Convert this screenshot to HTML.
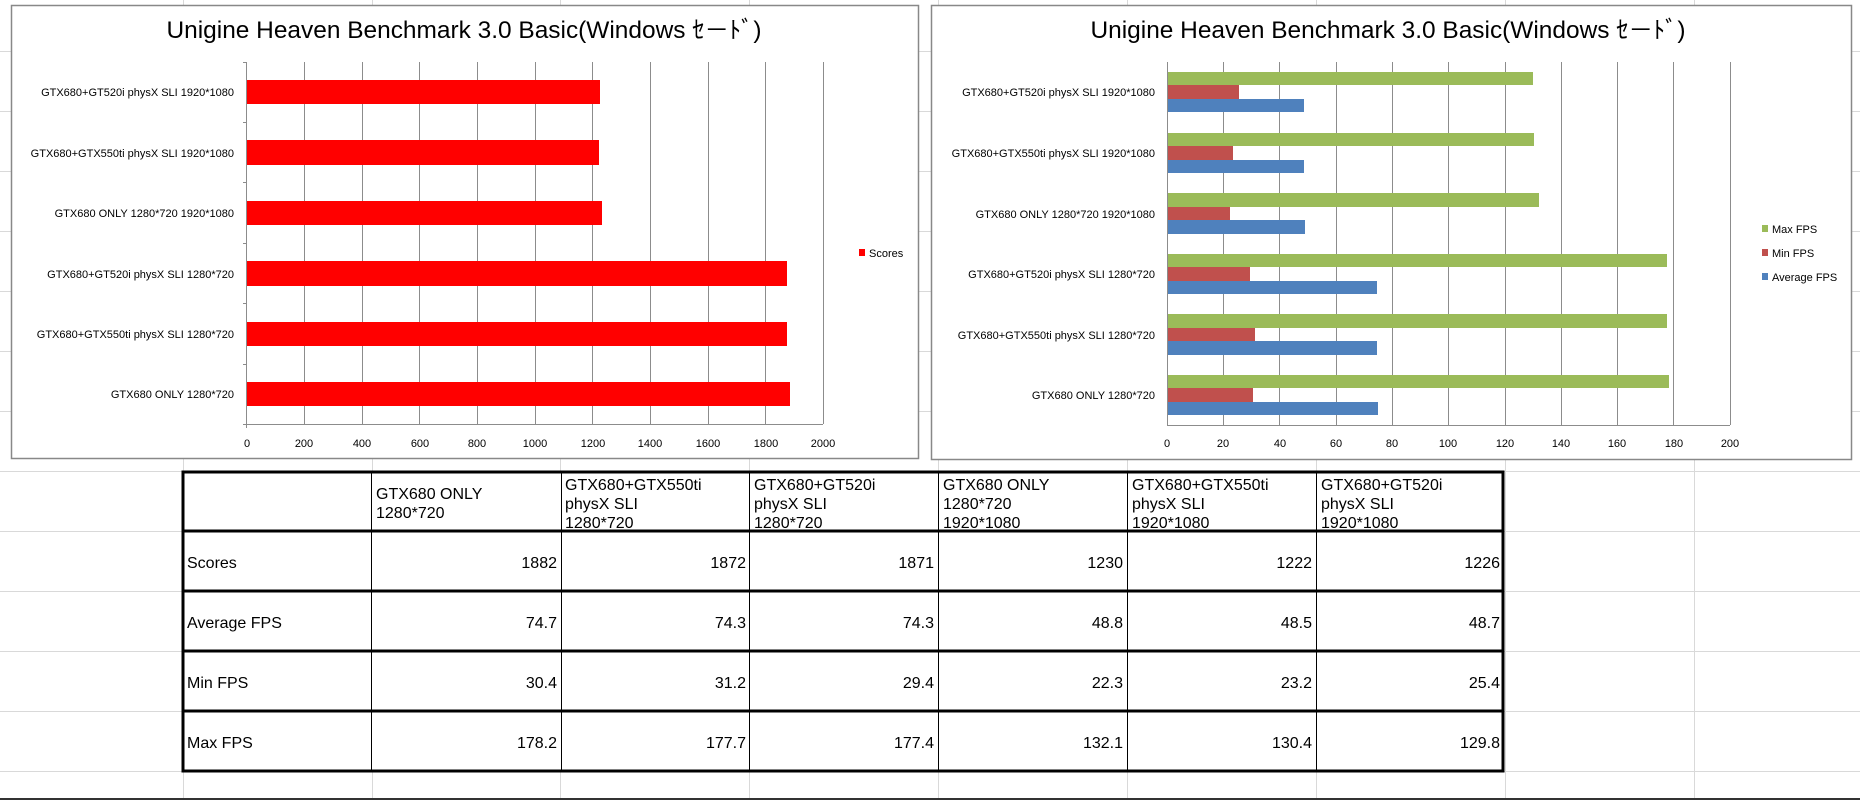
<!DOCTYPE html>
<html><head><meta charset="utf-8"><style>
html,body{margin:0;padding:0;background:#fff;width:1860px;height:800px;overflow:hidden}
svg{display:block}
.n{font-family:"Liberation Sans Narrow","Liberation Sans",sans-serif}
</style></head><body>
<svg width="1860" height="800" xmlns="http://www.w3.org/2000/svg">
<g stroke="#d9d9d9" stroke-width="1">
<line x1="183.5" y1="0" x2="183.5" y2="800"/><line x1="372.5" y1="0" x2="372.5" y2="800"/>
<line x1="560.5" y1="0" x2="560.5" y2="800"/><line x1="749.5" y1="0" x2="749.5" y2="800"/>
<line x1="938.5" y1="0" x2="938.5" y2="800"/><line x1="1127.5" y1="0" x2="1127.5" y2="800"/>
<line x1="1316.5" y1="0" x2="1316.5" y2="800"/><line x1="1505.5" y1="0" x2="1505.5" y2="800"/>
<line x1="1694.5" y1="0" x2="1694.5" y2="800"/>
<line x1="0" y1="51.5" x2="1860" y2="51.5"/><line x1="0" y1="111.5" x2="1860" y2="111.5"/>
<line x1="0" y1="171.5" x2="1860" y2="171.5"/><line x1="0" y1="231.5" x2="1860" y2="231.5"/>
<line x1="0" y1="291.5" x2="1860" y2="291.5"/><line x1="0" y1="351.5" x2="1860" y2="351.5"/>
<line x1="0" y1="411.5" x2="1860" y2="411.5"/><line x1="0" y1="471.5" x2="1860" y2="471.5"/>
<line x1="0" y1="531.5" x2="1860" y2="531.5"/><line x1="0" y1="591.5" x2="1860" y2="591.5"/>
<line x1="0" y1="651.5" x2="1860" y2="651.5"/><line x1="0" y1="711.5" x2="1860" y2="711.5"/>
<line x1="0" y1="771.5" x2="1860" y2="771.5"/>
</g>
<line x1="0" y1="799" x2="1860" y2="799" stroke="#333" stroke-width="2"/>

<!-- Left chart -->
<rect x="11.5" y="5.5" width="907" height="453" fill="#fff" stroke="#888" stroke-width="1.5"/>
<text x="464" y="38" font-family="Liberation Sans, Noto Sans CJK JP, sans-serif" font-size="24" text-anchor="middle" textLength="595" lengthAdjust="spacingAndGlyphs">Unigine Heaven Benchmark 3.0 Basic(Windows ｾ－ﾄﾞ)</text>
<g stroke="#8c8c8c" stroke-width="1">
<line x1="304.5" y1="62" x2="304.5" y2="424"/><line x1="362.5" y1="62" x2="362.5" y2="424"/>
<line x1="419.5" y1="62" x2="419.5" y2="424"/><line x1="477.5" y1="62" x2="477.5" y2="424"/>
<line x1="535.5" y1="62" x2="535.5" y2="424"/><line x1="592.5" y1="62" x2="592.5" y2="424"/>
<line x1="650.5" y1="62" x2="650.5" y2="424"/><line x1="708.5" y1="62" x2="708.5" y2="424"/>
<line x1="765.5" y1="62" x2="765.5" y2="424"/><line x1="823.5" y1="62" x2="823.5" y2="424"/>
<line x1="246.5" y1="62" x2="246.5" y2="428"/><line x1="243" y1="424.5" x2="823" y2="424.5"/>
<line x1="243" y1="62.5" x2="246" y2="62.5"/><line x1="243" y1="122.5" x2="246" y2="122.5"/>
<line x1="243" y1="182.5" x2="246" y2="182.5"/><line x1="243" y1="243.5" x2="246" y2="243.5"/>
<line x1="243" y1="303.5" x2="246" y2="303.5"/><line x1="243" y1="364.5" x2="246" y2="364.5"/>
</g>
<g fill="#ff0000">
<rect x="247" y="80" width="353" height="24"/>
<rect x="247" y="140" width="352" height="25"/>
<rect x="247" y="201" width="355" height="24"/>
<rect x="247" y="261" width="540" height="25"/>
<rect x="247" y="322" width="540" height="24"/>
<rect x="247" y="382" width="543" height="24"/>
</g>
<g class="n" font-size="11" text-anchor="end" fill="#000">
<text x="234" y="96">GTX680+GT520i physX SLI 1920*1080</text>
<text x="234" y="157">GTX680+GTX550ti physX SLI 1920*1080</text>
<text x="234" y="217">GTX680 ONLY 1280*720 1920*1080</text>
<text x="234" y="278">GTX680+GT520i physX SLI 1280*720</text>
<text x="234" y="338">GTX680+GTX550ti physX SLI 1280*720</text>
<text x="234" y="398">GTX680 ONLY 1280*720</text>
</g>
<g class="n" font-size="11" text-anchor="middle" fill="#000">
<text x="247" y="447">0</text><text x="304" y="447">200</text><text x="362" y="447">400</text>
<text x="420" y="447">600</text><text x="477" y="447">800</text><text x="535" y="447">1000</text>
<text x="593" y="447">1200</text><text x="650" y="447">1400</text><text x="708" y="447">1600</text>
<text x="766" y="447">1800</text><text x="823" y="447">2000</text>
</g>
<rect x="859" y="249" width="6" height="7" fill="#ff0000"/>
<text class="n" x="869" y="257" font-size="11">Scores</text>

<!-- Right chart -->
<rect x="931.5" y="5.5" width="920" height="454" fill="#fff" stroke="#888" stroke-width="1.5"/>
<text x="1388" y="38" font-family="Liberation Sans, Noto Sans CJK JP, sans-serif" font-size="24" text-anchor="middle" textLength="595" lengthAdjust="spacingAndGlyphs">Unigine Heaven Benchmark 3.0 Basic(Windows ｾ－ﾄﾞ)</text>
<g stroke="#8c8c8c" stroke-width="1">
<line x1="1223.5" y1="62" x2="1223.5" y2="425"/><line x1="1279.5" y1="62" x2="1279.5" y2="425"/>
<line x1="1336.5" y1="62" x2="1336.5" y2="425"/><line x1="1392.5" y1="62" x2="1392.5" y2="425"/>
<line x1="1448.5" y1="62" x2="1448.5" y2="425"/><line x1="1505.5" y1="62" x2="1505.5" y2="425"/>
<line x1="1561.5" y1="62" x2="1561.5" y2="425"/><line x1="1617.5" y1="62" x2="1617.5" y2="425"/>
<line x1="1673.5" y1="62" x2="1673.5" y2="425"/><line x1="1730.5" y1="62" x2="1730.5" y2="425"/>
<line x1="1167.5" y1="62" x2="1167.5" y2="425"/><line x1="1167" y1="425.5" x2="1730" y2="425.5"/>
</g>
<g fill="#9bbb59">
<rect x="1168" y="72" width="365" height="13"/><rect x="1168" y="133" width="366" height="13"/>
<rect x="1168" y="193" width="371" height="14"/><rect x="1168" y="254" width="499" height="13"/>
<rect x="1168" y="314" width="499" height="14"/><rect x="1168" y="375" width="501" height="13"/>
</g>
<g fill="#c0504d">
<rect x="1168" y="85" width="71" height="14"/><rect x="1168" y="146" width="65" height="14"/>
<rect x="1168" y="207" width="62" height="13"/><rect x="1168" y="267" width="82" height="14"/>
<rect x="1168" y="328" width="87" height="13"/><rect x="1168" y="388" width="85" height="14"/>
</g>
<g fill="#4f81bd">
<rect x="1168" y="99" width="136" height="13"/><rect x="1168" y="160" width="136" height="13"/>
<rect x="1168" y="220" width="137" height="14"/><rect x="1168" y="281" width="209" height="13"/>
<rect x="1168" y="341" width="209" height="14"/><rect x="1168" y="402" width="210" height="13"/>
</g>
<g class="n" font-size="11" text-anchor="end" fill="#000">
<text x="1155" y="96">GTX680+GT520i physX SLI 1920*1080</text>
<text x="1155" y="157">GTX680+GTX550ti physX SLI 1920*1080</text>
<text x="1155" y="218">GTX680 ONLY 1280*720 1920*1080</text>
<text x="1155" y="278">GTX680+GT520i physX SLI 1280*720</text>
<text x="1155" y="339">GTX680+GTX550ti physX SLI 1280*720</text>
<text x="1155" y="399">GTX680 ONLY 1280*720</text>
</g>
<g class="n" font-size="11" text-anchor="middle" fill="#000">
<text x="1167" y="447">0</text><text x="1223" y="447">20</text><text x="1280" y="447">40</text>
<text x="1336" y="447">60</text><text x="1392" y="447">80</text><text x="1448" y="447">100</text>
<text x="1505" y="447">120</text><text x="1561" y="447">140</text><text x="1617" y="447">160</text>
<text x="1674" y="447">180</text><text x="1730" y="447">200</text>
</g>
<rect x="1762" y="225" width="6" height="7" fill="#9bbb59"/>
<text class="n" x="1772" y="233" font-size="11">Max FPS</text>
<rect x="1762" y="249" width="6" height="7" fill="#c0504d"/>
<text class="n" x="1772" y="257" font-size="11">Min FPS</text>
<rect x="1762" y="273" width="6" height="7" fill="#4f81bd"/>
<text class="n" x="1772" y="281" font-size="11">Average FPS</text>

<!-- Table -->
<rect x="182" y="471" width="1322" height="300" fill="#fff"/>
<g stroke="#000" stroke-width="1">
<line x1="371.5" y1="471" x2="371.5" y2="771"/><line x1="561.5" y1="471" x2="561.5" y2="771"/>
<line x1="749.5" y1="471" x2="749.5" y2="771"/><line x1="938.5" y1="471" x2="938.5" y2="771"/>
<line x1="1127.5" y1="471" x2="1127.5" y2="771"/><line x1="1316.5" y1="471" x2="1316.5" y2="771"/>
</g>
<g stroke="#000" stroke-width="3">
<line x1="182" y1="531" x2="1504" y2="531"/><line x1="182" y1="591" x2="1504" y2="591"/>
<line x1="182" y1="651" x2="1504" y2="651"/><line x1="182" y1="711" x2="1504" y2="711"/>
<rect x="183" y="472" width="1320" height="299" fill="none"/>
</g>
<g class="n" font-size="16" fill="#000">
<text x="376" y="499">GTX680 ONLY</text><text x="376" y="518">1280*720</text>
<text x="565" y="490">GTX680+GTX550ti</text><text x="565" y="509">physX SLI</text><text x="565" y="528">1280*720</text>
<text x="754" y="490">GTX680+GT520i</text><text x="754" y="509">physX SLI</text><text x="754" y="528">1280*720</text>
<text x="943" y="490">GTX680 ONLY</text><text x="943" y="509">1280*720</text><text x="943" y="528">1920*1080</text>
<text x="1132" y="490">GTX680+GTX550ti</text><text x="1132" y="509">physX SLI</text><text x="1132" y="528">1920*1080</text>
<text x="1321" y="490">GTX680+GT520i</text><text x="1321" y="509">physX SLI</text><text x="1321" y="528">1920*1080</text>
<text x="187" y="568">Scores</text><text x="187" y="628">Average FPS</text>
<text x="187" y="688">Min FPS</text><text x="187" y="748">Max FPS</text>
</g>
<g class="n" font-size="16" fill="#000" text-anchor="end">
<text x="557" y="568">1882</text><text x="746" y="568">1872</text><text x="934" y="568">1871</text>
<text x="1123" y="568">1230</text><text x="1312" y="568">1222</text><text x="1500" y="568">1226</text>
<text x="557" y="628">74.7</text><text x="746" y="628">74.3</text><text x="934" y="628">74.3</text>
<text x="1123" y="628">48.8</text><text x="1312" y="628">48.5</text><text x="1500" y="628">48.7</text>
<text x="557" y="688">30.4</text><text x="746" y="688">31.2</text><text x="934" y="688">29.4</text>
<text x="1123" y="688">22.3</text><text x="1312" y="688">23.2</text><text x="1500" y="688">25.4</text>
<text x="557" y="748">178.2</text><text x="746" y="748">177.7</text><text x="934" y="748">177.4</text>
<text x="1123" y="748">132.1</text><text x="1312" y="748">130.4</text><text x="1500" y="748">129.8</text>
</g>
</svg>
</body></html>
